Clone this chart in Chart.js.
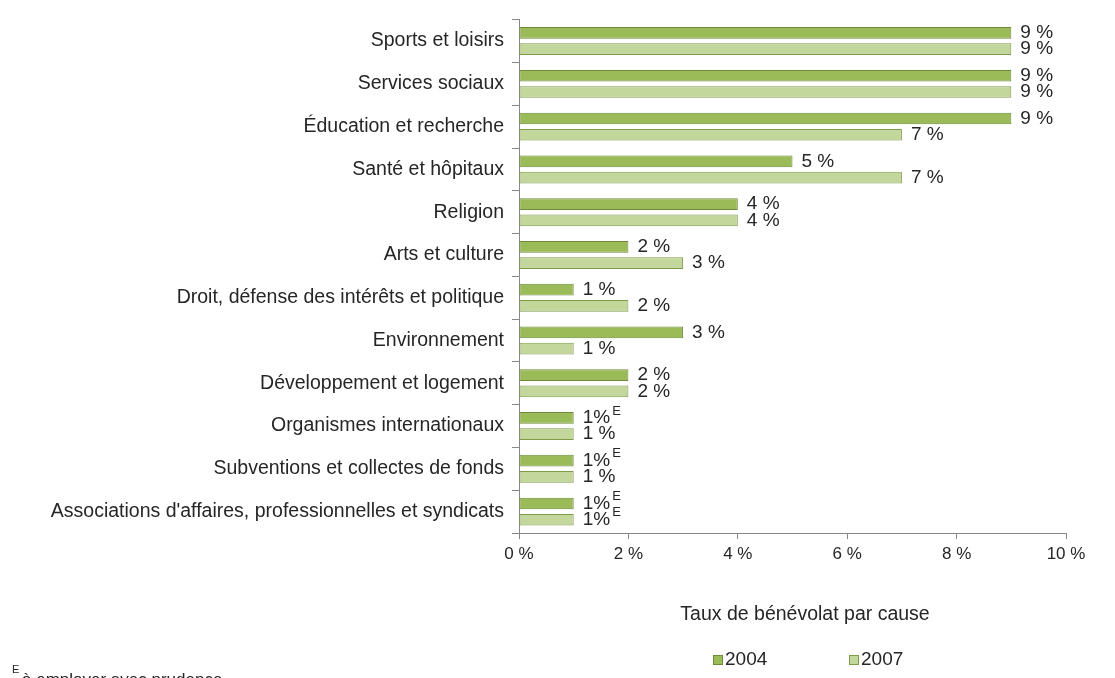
<!DOCTYPE html>
<html>
<head>
<meta charset="utf-8">
<script src="https://cdn.jsdelivr.net/npm/chart.js@4"></script>
<style>
  html, body { margin: 0; padding: 0; background: #fff; }
  #wrap { width: 1115px; height: 678px; }
</style>
</head>
<body>
<div id="wrap"><canvas id="causeChart" width="1115" height="678"></canvas></div>
<script>
const causes = [
  "Sports et loisirs",
  "Services sociaux",
  "Éducation et recherche",
  "Santé et hôpitaux",
  "Religion",
  "Arts et culture",
  "Droit, défense des intérêts et politique",
  "Environnement",
  "Développement et logement",
  "Organismes internationaux",
  "Subventions et collectes de fonds",
  "Associations d'affaires, professionnelles et syndicats",
];
const rate2004 = [9, 9, 9, 5, 4, 2, 1, 3, 2, 1, 1, 1];
const rate2007 = [9, 9, 7, 7, 4, 3, 2, 1, 2, 1, 1, 1];
// E = à employer avec prudence
const flag2004 = [0, 0, 0, 0, 0, 0, 0, 0, 0, 1, 1, 1];
const flag2007 = [0, 0, 0, 0, 0, 0, 0, 0, 0, 0, 0, 1];
const xTicks = [0, 2, 4, 6, 8, 10];

const FONT = "'Liberation Sans', Arial, sans-serif";
const TEXT = "#262626";
const AXIS = "#878787";

const barLabels = {
  id: "barLabels",
  afterDatasetsDraw(chart) {
    const c = chart.ctx;
    c.save();
    c.fillStyle = TEXT;
    c.textBaseline = "middle";
    chart.data.datasets.forEach((ds, i) => {
      const flags = i === 0 ? flag2004 : flag2007;
      chart.getDatasetMeta(i).data.forEach((bar, j) => {
        const x = bar.x + 9;
        const y = bar.y;
        c.font = "19px " + FONT;
        if (flags[j]) {
          const t = ds.data[j] + "%";
          c.fillText(t, x, y);
          const w = c.measureText(t).width;
          c.font = "13px " + FONT;
          c.fillText("E", x + w + 2, y - 7);
        } else {
          c.fillText(ds.data[j] + " %", x, y);
        }
      });
    });
    c.restore();
  },
};

const extras = {
  id: "extras",
  afterDraw(chart) {
    const c = chart.ctx;
    c.save();
    c.fillStyle = TEXT;
    c.textBaseline = "middle";
    c.font = "19.5px " + FONT;
    c.textAlign = "center";
    c.fillText("Taux de bénévolat par cause", 805, 615);
    c.textAlign = "left";
    c.font = "19px " + FONT;
    chart.data.datasets.forEach((ds, i) => {
      const bx = 713 + i * 136;
      c.fillStyle = ds.backgroundColor;
      c.strokeStyle = ds.borderColor;
      c.lineWidth = 1;
      c.fillRect(bx + 0.5, 655.5, 9, 9);
      c.strokeRect(bx + 0.5, 655.5, 9, 9);
      c.fillStyle = TEXT;
      c.fillText(ds.label, bx + 12, 660);
    });
    c.font = "11px " + FONT;
    c.fillText("E", 12, 670);
    c.font = "17px " + FONT;
    c.fillText("à employer avec prudence", 22, 680);
    c.restore();
  },
};

new Chart(document.getElementById("causeChart"), {
  type: "bar",
  data: {
    labels: causes,
    datasets: [
      {
        label: "2004",
        data: rate2004,
        backgroundColor: "#9bbb59",
        borderColor: "#6e8a3a",
        borderWidth: 1,
        borderSkipped: false,
      },
      {
        label: "2007",
        data: rate2007,
        backgroundColor: "#c3d69b",
        borderColor: "#7f9a4a",
        borderWidth: 1,
        borderSkipped: false,
      },
    ],
  },
  options: {
    indexAxis: "y",
    responsive: false,
    animation: false,
    datasets: { bar: { categoryPercentage: 0.76, barPercentage: 0.72 } },
    layout: { padding: { top: 17, right: 49, left: 0, bottom: 0 } },
    plugins: {
      legend: { display: false },
      tooltip: { enabled: false },
    },
    scales: {
      x: {
        min: 0,
        max: 10,
        afterBuildTicks: (scale) => {
          scale.ticks = xTicks.map((v) => ({ value: v }));
        },
        afterFit: (scale) => {
          scale.height = 145;
        },
        border: { color: AXIS, width: 1 },
        grid: {
          drawOnChartArea: false,
          tickLength: 6,
          color: AXIS,
        },
        ticks: {
          color: TEXT,
          font: { family: FONT, size: 17 },
          padding: 5,
          callback: (v) => v + " %",
        },
      },
      y: {
        afterFit: (scale) => {
          scale.width = 519;
        },
        border: { color: AXIS, width: 1 },
        grid: {
          drawOnChartArea: false,
          offset: true,
          tickLength: 7,
          color: AXIS,
        },
        ticks: {
          color: TEXT,
          font: { family: FONT, size: 19.5 },
          padding: 8,
        },
      },
    },
  },
  plugins: [barLabels, extras],
});
</script>
</body>
</html>
